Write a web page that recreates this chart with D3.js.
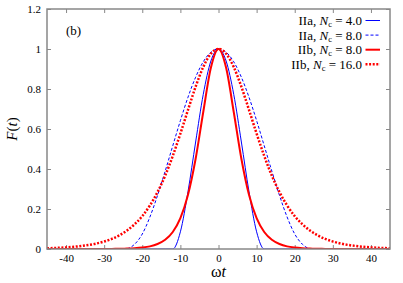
<!DOCTYPE html>
<html>
<head>
<meta charset="utf-8">
<script src="https://cdn.jsdelivr.net/npm/d3@7"></script>
<style>
  body { margin: 0; background: #fff; }
  svg { display: block; }
  text { font-family: "Liberation Serif", "Times New Roman", serif; fill: #000; }
</style>
</head>
<body>
<div id="chart"></div>
<script>
// Data
var omegaT = [-45, -40, -36, -32, -28, -26, -24, -22, -20, -18, -16, -14, -12, -10, -8, -6, -4, -2, 0,
  2, 4, 6, 8, 10, 12, 14, 16, 18, 20, 22, 24, 26, 28, 32, 36, 40, 45];

// IIa, Nc = 4.0
var iia4 = [0, 0, 0, 0, 0, 0, 0, 0, 0, 0, 0, 0, 0, 0.086, 0.287, 0.535, 0.773, 0.94, 1,
  0.94, 0.773, 0.535, 0.287, 0.086, 0, 0, 0, 0, 0, 0, 0, 0, 0, 0, 0, 0, 0];
// IIa, Nc = 8.0
var iia8 = [0, 0, 0, 0, 0, 0, 0.002, 0.024, 0.075, 0.16, 0.268, 0.389, 0.516, 0.642, 0.759, 0.859, 0.936, 0.984, 1,
  0.984, 0.936, 0.859, 0.759, 0.642, 0.516, 0.389, 0.268, 0.16, 0.075, 0.024, 0.002, 0, 0, 0, 0, 0, 0];
// IIb, Nc = 8.0
var iib8 = [0, 0.0001, 0.0002, 0.0003, 0.0006, 0.001, 0.002, 0.0037, 0.007, 0.013, 0.025, 0.046, 0.085, 0.154, 0.271, 0.451, 0.685, 0.906, 1,
  0.906, 0.685, 0.451, 0.271, 0.154, 0.085, 0.046, 0.025, 0.013, 0.007, 0.0037, 0.002, 0.001, 0.0006, 0.0003, 0.0002, 0.0001, 0];
// IIb, Nc = 16.0
var iib16 = [0.0037, 0.0081, 0.015, 0.0276, 0.0507, 0.0685, 0.0924, 0.1242, 0.1642, 0.2177, 0.2845, 0.3665, 0.4652, 0.5771, 0.6957, 0.8115, 0.9098, 0.9764, 1,
  0.9764, 0.9098, 0.8115, 0.6957, 0.5771, 0.4652, 0.3665, 0.2845, 0.2177, 0.1642, 0.1242, 0.0924, 0.0685, 0.0507, 0.0276, 0.015, 0.0081, 0.0037];

var seriesNames = ["IIa", "IIa", "IIb", "IIb"];
var seriesNc = ["4.0", "8.0", "8.0", "16.0"];
var xTicks = [-40, -30, -20, -10, 0, 10, 20, 30, 40];
var yTicks = [0, 0.2, 0.4, 0.6, 0.8, 1, 1.2];

// svg container
var svgWidth = 403;
var svgHeight = 283;

var margin = { top: 9, right: 13, bottom: 34, left: 47 };
var chartWidth = svgWidth - margin.left - margin.right;
var chartHeight = svgHeight - margin.top - margin.bottom;

var svg = d3.select("#chart").append("svg")
  .attr("width", svgWidth)
  .attr("height", svgHeight);

var chartGroup = svg.append("g")
  .attr("transform", "translate(" + margin.left + "," + margin.top + ")");

var xScale = d3.scaleLinear().domain([-45, 45]).range([0, chartWidth]);
var yScale = d3.scaleLinear().domain([0, 1.2]).range([chartHeight, 0]);

var fmt = function(d) { return String(d); };

// axes, ticks pointing inward
chartGroup.append("g")
  .attr("class", "x axis")
  .attr("transform", "translate(0," + chartHeight + ")")
  .call(d3.axisBottom(xScale).tickValues(xTicks).tickFormat(fmt).tickSizeInner(-4).tickSizeOuter(0).tickPadding(5.5));

chartGroup.append("g")
  .attr("class", "x axis top")
  .call(d3.axisTop(xScale).tickValues(xTicks).tickFormat("").tickSizeInner(-4).tickSizeOuter(0));

chartGroup.append("g")
  .attr("class", "y axis")
  .call(d3.axisLeft(yScale).tickValues(yTicks).tickFormat(fmt).tickSizeInner(-4).tickSizeOuter(0).tickPadding(6));

chartGroup.append("g")
  .attr("class", "y axis right")
  .attr("transform", "translate(" + chartWidth + ",0)")
  .call(d3.axisRight(yScale).tickValues(yTicks).tickFormat("").tickSizeInner(-4).tickSizeOuter(0));

chartGroup.selectAll(".axis .domain").remove();
chartGroup.selectAll(".axis line").attr("stroke", "#888").attr("stroke-width", 1);
chartGroup.selectAll(".axis text")
  .style("font-family", "Liberation Serif")
  .style("font-size", "11px")
  .attr("fill", "#000");

// clip
chartGroup.append("clipPath").attr("id", "clip")
  .append("rect").attr("width", chartWidth).attr("height", chartHeight);

var styles = [
  { data: iia4, color: "#0000ff", width: 1, dash: null },
  { data: iia8, color: "#0000ff", width: 1, dash: "3,2" },
  { data: iib8, color: "#ff0000", width: 2, dash: null },
  { data: iib16, color: "#ff0000", width: 2.5, dash: "2,1.6" }
];

var line = d3.line()
  .x(function(d) { return xScale(d[0]); })
  .y(function(d) { return yScale(d[1]); })
  .curve(d3.curveMonotoneX);

var curves = chartGroup.append("g").attr("clip-path", "url(#clip)");
styles.forEach(function(s) {
  var pts = omegaT.map(function(t, i) { return [t, s.data[i]]; });
  curves.append("path")
    .datum(pts)
    .attr("d", line)
    .attr("fill", "none")
    .attr("stroke", s.color)
    .attr("stroke-width", s.width)
    .attr("stroke-dasharray", s.dash);
});

// frame
chartGroup.append("rect")
  .attr("width", chartWidth)
  .attr("height", chartHeight)
  .attr("fill", "none")
  .attr("stroke", "#888")
  .attr("stroke-width", 1.5);

// panel label
chartGroup.append("text")
  .attr("x", 19)
  .attr("y", 26)
  .style("font-size", "13px")
  .text("(b)");

// legend
var legend = chartGroup.append("g");
styles.forEach(function(s, i) {
  var ly = 11.5 + i * 14.6;
  var t = legend.append("text")
    .attr("x", 315)
    .attr("y", ly + 4.5)
    .attr("text-anchor", "end")
    .style("font-size", "13px");
  t.append("tspan").text(seriesNames[i] + ", ");
  t.append("tspan").style("font-style", "italic").text("N");
  t.append("tspan").attr("dy", 2).style("font-size", "8.5px").text("c");
  t.append("tspan").attr("dy", -2).text(" = " + seriesNc[i]);
  legend.append("line")
    .attr("x1", 318.5).attr("x2", 333)
    .attr("y1", ly).attr("y2", ly)
    .attr("stroke", s.color)
    .attr("stroke-width", s.width)
    .attr("stroke-dasharray", s.dash);
});

// axis titles
var xt = svg.append("text")
  .attr("x", margin.left + chartWidth / 2)
  .attr("y", 277)
  .attr("text-anchor", "middle")
  .style("font-size", "16px");
xt.append("tspan").text("ω");
xt.append("tspan").style("font-style", "italic").text("t");

var yt = svg.append("text")
  .attr("transform", "translate(17," + (margin.top + chartHeight / 2) + ") rotate(-90)")
  .attr("text-anchor", "middle")
  .style("font-size", "15px");
yt.append("tspan").style("font-style", "italic").text("F");
yt.append("tspan").text("(");
yt.append("tspan").style("font-style", "italic").text("t");
yt.append("tspan").text(")");
</script>
</body>
</html>
